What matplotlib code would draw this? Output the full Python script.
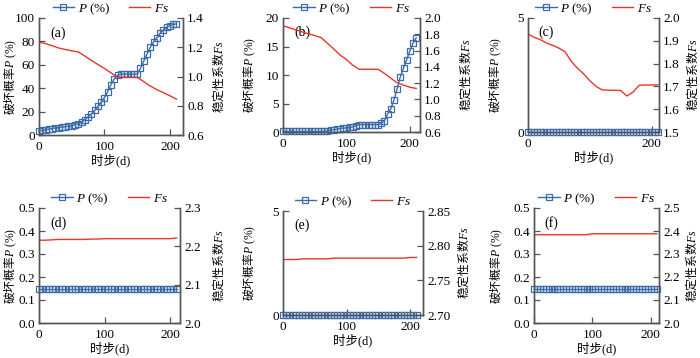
import matplotlib

matplotlib.use("Agg")
import matplotlib.pyplot as plt
import numpy as np

plt.rcParams["font.family"] = ["Liberation Serif", "Noto Sans CJK SC"]
plt.rcParams["mathtext.fontset"] = "custom"
plt.rcParams["mathtext.it"] = "Liberation Serif:italic"
plt.rcParams["mathtext.rm"] = "Noto Sans CJK SC"   # 混排标签中的中文
plt.rcParams["mathtext.sf"] = "Liberation Serif"   # 借 \mathsf 写衬线括号
plt.rcParams["axes.unicode_minus"] = False

C_P = "#3D6BA8"
C_FS = "#E8352B"
C_AX = "#555555"

# ---- 数据 ----
DAYS_P = np.arange(0, 211, 5)
DAYS_FS = np.arange(0, 211, 10)

P_A = [3.5, 4.0, 4.5, 5.0, 5.5, 6.0, 6.3, 6.7, 7.0, 7.5, 8.0, 8.7, 9.5, 11.0,
       13.0, 15.5, 18.0, 21.0, 24.5, 28.0, 32.0, 37.0, 43.0, 48.0, 51.0, 52.0,
       52.0, 52.0, 52.0, 52.0, 52.0, 57.0, 63.0, 69.0, 75.0, 79.5, 83.0, 87.0,
       90.0, 92.0, 93.5, 94.5, 95.0]
FS_A = [1.235, 1.225, 1.21, 1.195, 1.185, 1.175, 1.168, 1.14, 1.11, 1.082,
        1.055, 1.025, 0.997, 0.995, 0.995, 0.995, 0.965, 0.935, 0.91, 0.89,
        0.868, 0.845]

P_B = [0.1, 0.1, 0.1, 0.1, 0.1, 0.1, 0.1, 0.1, 0.1, 0.1, 0.1, 0.1, 0.1, 0.15,
       0.2, 0.3, 0.4, 0.5, 0.6, 0.7, 0.7, 0.8, 0.9, 1.1, 1.3, 1.3, 1.3, 1.3,
       1.3, 1.3, 1.3, 1.5, 2.0, 3.2, 4.1, 5.6, 7.6, 9.7, 11.2, 12.7, 14.2,
       15.6, 16.5]
FS_B = [1.905, 1.88, 1.855, 1.83, 1.805, 1.785, 1.76, 1.69, 1.62, 1.545,
        1.49, 1.42, 1.37, 1.37, 1.37, 1.37, 1.32, 1.26, 1.205, 1.175, 1.15,
        1.135]

P_C = [0.0] * 43
FS_C = [1.93, 1.915, 1.905, 1.89, 1.88, 1.868, 1.852, 1.81, 1.78, 1.755,
        1.725, 1.70, 1.685, 1.683, 1.683, 1.682, 1.658, 1.675, 1.705, 1.706,
        1.706, 1.707]

P_D = [0.15] * 43
FS_D = [2.216, 2.216, 2.217, 2.218, 2.218, 2.218, 2.218, 2.218, 2.219, 2.219,
        2.220, 2.220, 2.220, 2.220, 2.220, 2.220, 2.220, 2.220, 2.220, 2.220,
        2.220, 2.222]

P_E = [0.0] * 43
FS_E = [2.780, 2.780, 2.780, 2.781, 2.781, 2.781, 2.781, 2.781, 2.782, 2.782,
        2.782, 2.782, 2.782, 2.782, 2.782, 2.782, 2.782, 2.782, 2.782, 2.782,
        2.783, 2.783]

P_F = [0.15] * 43
FS_F = [2.384, 2.384, 2.384, 2.384, 2.384, 2.384, 2.384, 2.384, 2.384, 2.384,
        2.388, 2.388, 2.388, 2.388, 2.388, 2.388, 2.388, 2.388, 2.388, 2.388,
        2.388, 2.388]

# 每个子图: 标签, P, Fs, 位置(px: 左, 右, 上, 下), xlim, 左轴刻度, 右轴刻度,
#          刻度格式, x 刻度, 左/右 y 轴标题位置(轴坐标)
PANELS = [
    ("(a)", P_A, FS_A, (39, 183, 18, 135), 220, [0, 20, 40, 60, 80, 100],
     [0.6, 0.8, 1.0, 1.2, 1.4], "{:.0f}", "{:.1f}", [0, 100, 200], -0.14, 1.19),
    ("(b)", P_B, FS_B, (283, 420, 18, 132), 216, [0, 5, 10, 15, 20],
     [0.6, 0.8, 1.0, 1.2, 1.4, 1.6, 1.8, 2.0], "{:.0f}", "{:.1f}", [0, 100, 200],
     -0.182, 1.277),
    ("(c)", P_C, FS_C, (528, 659, 18, 132), 212, [0, 5],
     [1.5, 1.6, 1.7, 1.8, 1.9, 2.0], "{:.0f}", "{:.1f}", [0, 200], -0.183, 1.195),
    ("(d)", P_D, FS_D, (39, 180, 208, 323), 215, [0, 0.1, 0.2, 0.3, 0.4, 0.5],
     [2.0, 2.1, 2.2, 2.3], "{:.1f}", "{:.1f}", [0, 100, 200], -0.143, 1.213),
    ("(e)", P_E, FS_E, (283, 423, 211, 315), 220, [0, 5],
     [2.70, 2.75, 2.80, 2.85], "{:.0f}", "{:.2f}", [0, 100, 200], -0.179, 1.229),
    ("(f)", P_F, FS_F, (534, 659, 208, 323), 214, [0, 0.1, 0.2, 0.3, 0.4, 0.5],
     [2.0, 2.1, 2.2, 2.3, 2.4, 2.5], "{:.1f}", "{:.1f}", [0, 100, 200],
     -0.232, 1.20),
]

LBL_P = r"$P\ \mathsf{(\%)}$"
LBL_FS = r"$Fs$"
YL_LEFT = r"$\mathrm{破坏概率}P\ \mathsf{(\%)}$"
YL_RIGHT = r"$\mathrm{稳定性系数}Fs$"

W, H = 700, 358
fig = plt.figure(figsize=(W / 100, H / 100), dpi=100)
FS_TICK = 9.5
FS_LBL = 8.5

for (tag, p, fs, (l, r, t, b), xmax, lt, rt, lfmt, rfmt, xt, yl_x, yr_x) in PANELS:
    ax = fig.add_axes([l / W, (H - b) / H, (r - l) / W, (b - t) / H])
    ax2 = ax.twinx()
    ln1, = ax.plot(DAYS_P, p, color=C_P, lw=1, marker="s", ms=4.5, mew=0.9,
                   mfc="none", clip_on=False, zorder=3)
    ln2, = ax2.plot(DAYS_FS, fs, color=C_FS, lw=1)
    ax.set_xlim(0, xmax)
    ax.set_ylim(lt[0], lt[-1])
    ax2.set_ylim(rt[0], rt[-1])
    ax.set_xticks(xt)
    ax.set_yticks(lt)
    ax.set_yticklabels([lfmt.format(v) for v in lt])
    ax2.set_yticks(rt)
    ax2.set_yticklabels([rfmt.format(v) for v in rt])
    for a in (ax, ax2):
        a.spines["top"].set_visible(False)
        for s in ("left", "right", "bottom"):
            a.spines[s].set_color(C_AX)
            a.spines[s].set_linewidth(1.0)
        a.tick_params(direction="in", length=4, width=0.9, color=C_AX,
                      labelsize=FS_TICK, pad=3)
    ax.tick_params(axis="x", pad=4)
    ax.set_xlabel("时步(d)", fontsize=FS_LBL + 0.5, labelpad=1)
    ax.set_ylabel(YL_LEFT, fontsize=FS_LBL)
    ax2.set_ylabel(YL_RIGHT, fontsize=FS_LBL)
    ax.yaxis.set_label_coords(yl_x, 0.5)
    ax2.yaxis.set_label_coords(yr_x, 0.5)
    ax.text(0.08, 0.93, tag, transform=ax.transAxes, fontsize=FS_TICK + 0.5,
            va="top", ha="left")
    ax2.legend([ln1, ln2], [LBL_P, LBL_FS], loc="lower center",
               bbox_to_anchor=(0.5, 1.0), ncol=2, frameon=False,
               fontsize=FS_TICK, handlelength=1.6, columnspacing=1.4,
               handletextpad=0.3, borderaxespad=0.0, borderpad=0.1)

fig.savefig("out.png", dpi=100)
